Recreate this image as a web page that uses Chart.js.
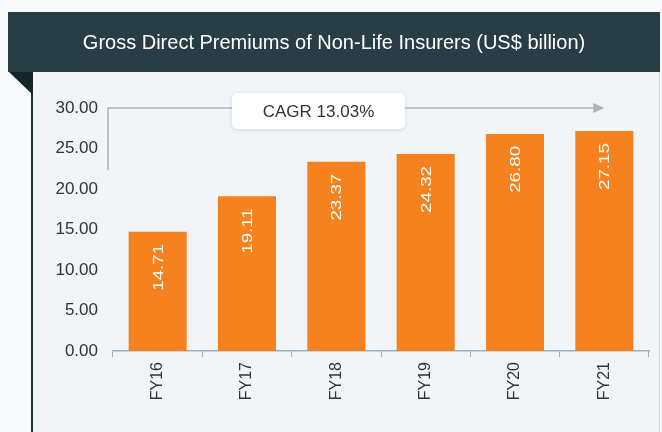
<!DOCTYPE html>
<html>
<head>
<meta charset="utf-8">
<script src="https://cdn.jsdelivr.net/npm/chart.js@4"></script>
<style>
  html, body { margin: 0; padding: 0; background: #f7f9fa; }
  #wrap { width: 662px; height: 432px; position: relative; }
</style>
</head>
<body>
<div id="wrap"><canvas id="premiumsChart" width="662" height="432"></canvas></div>
<script>
var years = ['FY16', 'FY17', 'FY18', 'FY19', 'FY20', 'FY21'];
var premiums = [14.71, 19.11, 23.37, 24.32, 26.80, 27.15];
var chartTitle = 'Gross Direct Premiums of Non-Life Insurers (US$ billion)';
var cagrText = 'CAGR 13.03%';

var fontFamily = '"Liberation Sans", Arial, sans-serif';

// banner, panel and frame behind the chart
var backdrop = {
    id: 'backdrop',
    beforeDraw: function(chart) {
        var ctx = chart.ctx;
        ctx.save();
        ctx.fillStyle = '#f7f9fa';
        ctx.fillRect(0, 0, 662, 432);
        // panel
        ctx.fillStyle = '#f1f5f8';
        ctx.fillRect(32, 72, 627, 360);
        ctx.strokeStyle = '#c9d1d6';
        ctx.lineWidth = 1;
        ctx.beginPath();
        ctx.moveTo(659.5, 72);
        ctx.lineTo(659.5, 432);
        ctx.stroke();
        ctx.strokeStyle = '#1c2d34';
        ctx.lineWidth = 2;
        ctx.beginPath();
        ctx.moveTo(32, 72);
        ctx.lineTo(32, 432);
        ctx.stroke();
        // fold triangle
        ctx.fillStyle = '#15252b';
        ctx.beginPath();
        ctx.moveTo(9, 72);
        ctx.lineTo(33, 72);
        ctx.lineTo(33, 95);
        ctx.closePath();
        ctx.fill();
        // banner
        ctx.fillStyle = '#283d45';
        ctx.fillRect(8, 12, 652, 60);
        ctx.fillStyle = '#ffffff';
        ctx.font = '20px ' + fontFamily;
        ctx.textAlign = 'center';
        ctx.textBaseline = 'middle';
        ctx.fillText(chartTitle, 334, 43);
        ctx.restore();
    }
};

// CAGR arrow and callout box
var cagrArrow = {
    id: 'cagrArrow',
    afterDraw: function(chart) {
        var ctx = chart.ctx;
        var area = chart.chartArea;
        var xs = chart.scales.x, ys = chart.scales.y;
        var yTop = ys.getPixelForValue(30);
        var xStart = area.left - 5;
        var xEnd = xs.getPixelForValue(years.length - 1);
        ctx.save();
        ctx.strokeStyle = '#aab4bb';
        ctx.fillStyle = '#aab4bb';
        ctx.lineWidth = 1.5;
        ctx.beginPath();
        ctx.moveTo(xStart, ys.getPixelForValue(22.3));
        ctx.lineTo(xStart, yTop);
        ctx.lineTo(xEnd - 10, yTop);
        ctx.stroke();
        ctx.beginPath();
        ctx.moveTo(xEnd, yTop);
        ctx.lineTo(xEnd - 11, yTop - 5);
        ctx.lineTo(xEnd - 11, yTop + 5);
        ctx.closePath();
        ctx.fill();

        // box
        var bx = 232, bw = 173, by = yTop - 15, bh = 36;
        ctx.shadowColor = 'rgba(0,0,0,0.12)';
        ctx.shadowBlur = 4;
        ctx.shadowOffsetY = 1;
        ctx.fillStyle = '#ffffff';
        ctx.beginPath();
        ctx.roundRect(bx, by, bw, bh, 5);
        ctx.fill();
        ctx.shadowColor = 'transparent';
        ctx.fillStyle = '#333333';
        ctx.font = '17px ' + fontFamily;
        ctx.textAlign = 'center';
        ctx.textBaseline = 'middle';
        ctx.fillText(cagrText, bx + bw / 2, by + bh / 2 + 1);
        ctx.restore();
    }
};

// rotated value labels inside the bars (slightly stretched like the original)
var barLabels = {
    id: 'barLabels',
    afterDatasetsDraw: function(chart) {
        var ctx = chart.ctx;
        var meta = chart.getDatasetMeta(0);
        ctx.save();
        ctx.fillStyle = '#ffffff';
        ctx.font = '15px ' + fontFamily;
        ctx.textAlign = 'right';
        ctx.textBaseline = 'middle';
        meta.data.forEach(function(bar, i) {
            ctx.save();
            ctx.translate(bar.x, bar.y + 12);
            ctx.rotate(-Math.PI / 2);
            ctx.scale(1.25, 1);
            ctx.fillText(premiums[i].toFixed(2), 0, 1);
            ctx.restore();
        });
        ctx.restore();
    }
};

var ctx = document.getElementById('premiumsChart').getContext('2d');
var premiumsChart = new Chart(ctx, {
    type: 'bar',
    data: {
        labels: years,
        datasets: [{
            data: premiums,
            backgroundColor: '#f5821f',
            barPercentage: 0.65,
            categoryPercentage: 1
        }]
    },
    options: {
        responsive: false,
        animation: false,
        layout: { padding: { top: 108, right: 13, bottom: 0, left: 0 } },
        plugins: {
            legend: { display: false },
            tooltip: { enabled: false }
        },
        scales: {
            x: {
                afterFit: function(scale) { scale.height = 81; },
                border: { display: true, color: '#9fb0bb', width: 1.5 },
                grid: { display: true, drawOnChartArea: false, drawTicks: true, tickLength: 6, color: '#9fb0bb' },
                ticks: {
                    autoSkip: false,
                    minRotation: 90,
                    maxRotation: 90,
                    padding: 5,
                    color: '#333333',
                    font: { family: fontFamily, size: 16 }
                }
            },
            y: {
                min: 0,
                max: 30,
                afterFit: function(scale) { scale.width = 113; },
                border: { display: false },
                grid: { display: false, drawTicks: false },
                ticks: {
                    stepSize: 5,
                    padding: 15,
                    color: '#333333',
                    font: { family: fontFamily, size: 17 },
                    callback: function(v) { return v.toFixed(2); }
                }
            }
        }
    },
    plugins: [backdrop, cagrArrow, barLabels]
});
</script>
</body>
</html>
